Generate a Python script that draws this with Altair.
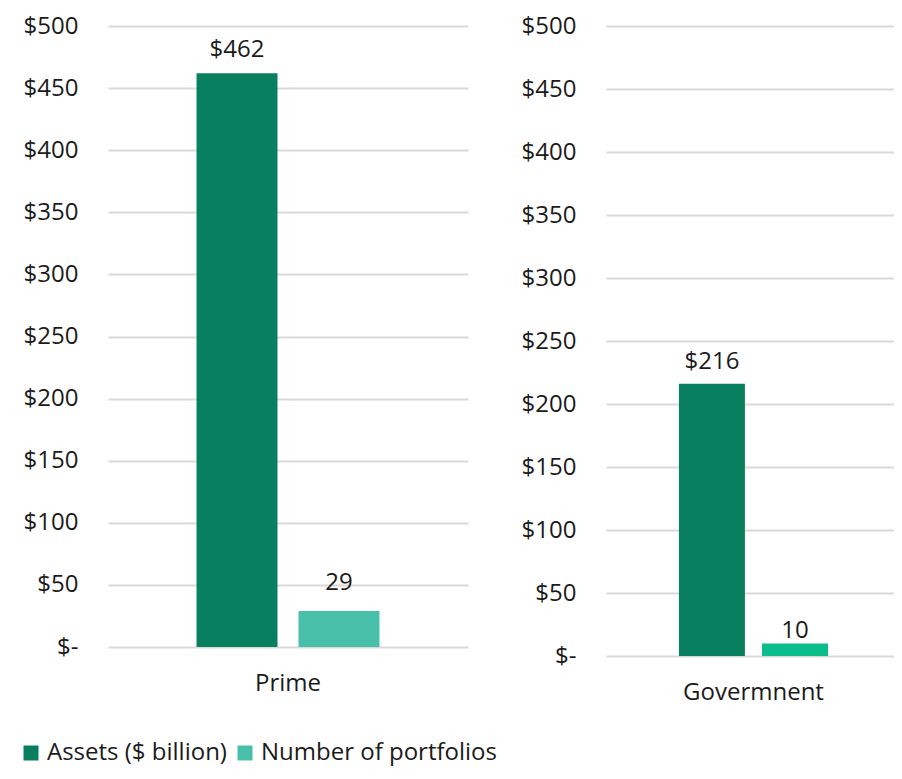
import altair as alt
import pandas as pd

# ---- data ----
series = ["Assets ($ billion)", "Number of portfolios"]
prime_values = [462, 29]
prime_labels = ["$462", "29"]
gov_values = [216, 10]
gov_labels = ["$216", "10"]
y_ticks = [0, 50, 100, 150, 200, 250, 300, 350, 400, 450, 500]

FONT = "Open Sans"
FS = 24
TEXT = "#1b1b1b"
DARK = "#087F5E"
TEAL = "#48BFA9"
BRIGHT = "#0ABD8A"
GRID = "#d9d9d9"

Y_LABEL_EXPR = "datum.value == 0 ? '$-\u00a0\u00a0' : '$' + datum.value"


def panel(cat, values, labels, width, height, colors, legend, assets_dy, num_dy,
          pad_outer, align):
    df = pd.DataFrame({
        "category": [cat, cat],
        "series": series,
        "value": values,
        "label": labels,
    })
    base = alt.Chart(df).encode(
        x=alt.X(
            "category:N",
            title=None,
            scale=alt.Scale(paddingOuter=pad_outer, paddingInner=0, align=align),
            axis=alt.Axis(labelAngle=0, labelPadding=24, ticks=False, domain=False,
                          grid=False, labelFontSize=FS, labelColor=TEXT,
                          labelFont=FONT),
        ),
        xOffset=alt.XOffset("series:N",
                            scale=alt.Scale(domain=series, paddingInner=0.206,
                                            paddingOuter=0)),
        y=alt.Y(
            "value:Q",
            title=None,
            scale=alt.Scale(domain=[0, 500], nice=False),
            axis=alt.Axis(values=y_ticks, labelExpr=Y_LABEL_EXPR, ticks=False,
                          domain=False, labelPadding=30, gridColor=GRID,
                          gridWidth=2, labelFontSize=FS, labelColor=TEXT,
                          labelFont=FONT),
        ),
    )
    bars = base.mark_bar().encode(
        color=alt.Color("series:N", scale=alt.Scale(domain=series, range=colors),
                        legend=legend)
    )
    t_assets = base.transform_filter(alt.datum.series == series[0]).mark_text(
        dy=assets_dy, baseline="alphabetic", fontSize=FS, font=FONT, color=TEXT
    ).encode(text="label:N")
    t_num = base.transform_filter(alt.datum.series == series[1]).mark_text(
        dy=num_dy, baseline="alphabetic", fontSize=FS, font=FONT, color=TEXT
    ).encode(text="label:N")
    return alt.layer(bars, t_assets, t_num).properties(width=width, height=height)


legend = alt.Legend(
    orient="none", legendX=-89, legendY=715, direction="horizontal", title=None,
    padding=0, symbolType="square", symbolSize=225, symbolStrokeWidth=0,
    labelFontSize=FS, labelFont=FONT, labelColor=TEXT, labelOffset=4,
    columnPadding=6, labelLimit=0,
)

left = panel("Prime", prime_values, prime_labels, 360, 621, [DARK, TEAL], legend,
             -16, -21, 0.484, 0.5)
right = panel("Govermnent", gov_values, gov_labels, 288, 630, [DARK, BRIGHT], None,
              -15, -5, 0.466, 0.525)

chart = (
    alt.hconcat(left, right, spacing=138, bounds="flush")
    .resolve_scale(color="independent", x="independent", xOffset="independent",
                   y="independent")
    .properties(padding={"left": 11, "top": 6, "right": 0, "bottom": 4})
    .configure(font=FONT)
    .configure_view(stroke=None)
)

chart.save("out.html", embed_options={"renderer": "svg", "actions": False})
